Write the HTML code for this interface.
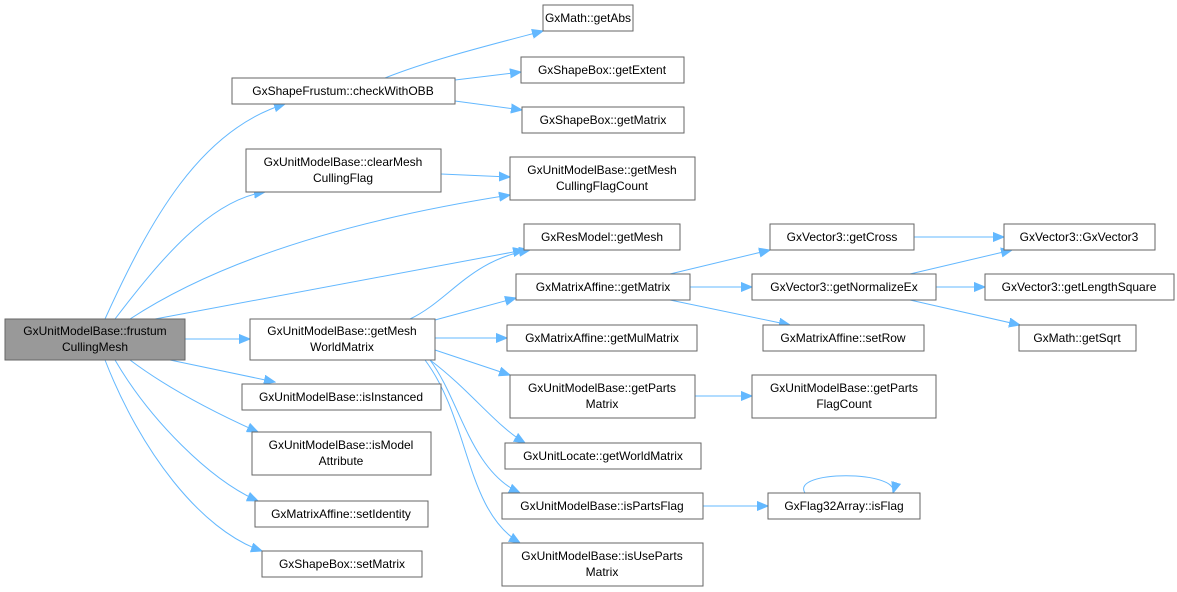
<!DOCTYPE html>
<html><head><meta charset="utf-8"><style>
body{margin:0;background:#fff;width:1177px;height:592px;overflow:hidden}
svg{position:absolute;left:0;top:0}
text{font-family:"Liberation Sans",sans-serif;font-size:12px;fill:#000}
.b{fill:#fff;stroke:#666;stroke-width:1}
.e{fill:none;stroke:#63b8ff;stroke-width:1}
</style></head><body>
<svg width="1177" height="592" viewBox="0 0 1177 592">
<defs><marker id="a" markerUnits="userSpaceOnUse" markerWidth="12" markerHeight="10" refX="11" refY="5" orient="auto"><path d="M0,0.5 L11,5 L0,9.5 Z" fill="#63b8ff" stroke="#63b8ff"/></marker></defs>
<g class="e" marker-end="url(#a)">
<path d="M105,319 C150,220 200,130 285,104"/>
<path d="M115,319 C160,260 210,200 265,192"/>
<path d="M130,319 C220,260 350,220 510,195"/>
<path d="M155,319 L524,250"/>
<path d="M185,339 L250,339"/>
<path d="M170,360 L275,382"/>
<path d="M130,360 C170,390 220,415 258,432"/>
<path d="M115,360 C150,420 210,480 258,501"/>
<path d="M105,360 C140,450 200,530 262,551"/>
<path d="M385,78 C430,60 490,45 543,31"/>
<path d="M455,80 L521,72"/>
<path d="M455,101 L522,110"/>
<path d="M441,174 L510,177"/>
<path d="M410,319 C450,300 470,260 530,250"/>
<path d="M435,320 L516,298"/>
<path d="M435,338 L507,338"/>
<path d="M435,350 L510,375"/>
<path d="M430,360 C470,390 495,425 525,443"/>
<path d="M430,360 C460,400 470,470 520,493"/>
<path d="M425,360 C470,420 465,510 520,543"/>
<path d="M670,274 L770,250"/>
<path d="M690,287 L752,287"/>
<path d="M670,300 L790,325"/>
<path d="M914,237 L1004,237"/>
<path d="M910,274 L1012,250"/>
<path d="M936,287 L985,287"/>
<path d="M910,300 L1020,325"/>
<path d="M695,396 L752,396"/>
<path d="M703,506 L768,506"/>
<path d="M805,493 C790,470 900,470 893,493"/>
</g>
<rect x="5" y="319" width="180" height="41" fill="#999" stroke="#666"/>
<text x="95" y="335" text-anchor="middle">GxUnitModelBase::frustum</text><text x="95" y="351" text-anchor="middle">CullingMesh</text>
<g text-anchor="middle">
<rect class="b" x="232" y="78" width="223" height="26"/><text x="343" y="95">GxShapeFrustum::checkWithOBB</text>
<rect class="b" x="543" y="5" width="90" height="26"/><text x="588" y="22">GxMath::getAbs</text>
<rect class="b" x="521" y="57" width="163" height="26"/><text x="602" y="74">GxShapeBox::getExtent</text>
<rect class="b" x="522" y="107" width="162" height="26"/><text x="603" y="124">GxShapeBox::getMatrix</text>
<rect class="b" x="246" y="149" width="195" height="43"/><text x="343" y="166">GxUnitModelBase::clearMesh</text><text x="343" y="182">CullingFlag</text>
<rect class="b" x="510" y="157" width="185" height="43"/><text x="602" y="174">GxUnitModelBase::getMesh</text><text x="602" y="190">CullingFlagCount</text>
<rect class="b" x="524" y="224" width="156" height="26"/><text x="602" y="241">GxResModel::getMesh</text>
<rect class="b" x="250" y="319" width="185" height="41"/><text x="342" y="335">GxUnitModelBase::getMesh</text><text x="342" y="351">WorldMatrix</text>
<rect class="b" x="516" y="274" width="174" height="26"/><text x="603" y="291">GxMatrixAffine::getMatrix</text>
<rect class="b" x="507" y="325" width="190" height="26"/><text x="602" y="342">GxMatrixAffine::getMulMatrix</text>
<rect class="b" x="510" y="375" width="185" height="43"/><text x="602" y="392">GxUnitModelBase::getParts</text><text x="602" y="408">Matrix</text>
<rect class="b" x="505" y="443" width="196" height="26"/><text x="603" y="460">GxUnitLocate::getWorldMatrix</text>
<rect class="b" x="502" y="493" width="201" height="26"/><text x="602" y="510">GxUnitModelBase::isPartsFlag</text>
<rect class="b" x="502" y="543" width="201" height="43"/><text x="602" y="560">GxUnitModelBase::isUseParts</text><text x="602" y="576">Matrix</text>
<rect class="b" x="242" y="384" width="199" height="26"/><text x="341" y="401">GxUnitModelBase::isInstanced</text>
<rect class="b" x="252" y="432" width="179" height="43"/><text x="341" y="449">GxUnitModelBase::isModel</text><text x="341" y="465">Attribute</text>
<rect class="b" x="255" y="501" width="173" height="26"/><text x="341" y="518">GxMatrixAffine::setIdentity</text>
<rect class="b" x="262" y="551" width="160" height="26"/><text x="342" y="568">GxShapeBox::setMatrix</text>
<rect class="b" x="770" y="224" width="144" height="26"/><text x="842" y="241">GxVector3::getCross</text>
<rect class="b" x="752" y="274" width="184" height="26"/><text x="844" y="291">GxVector3::getNormalizeEx</text>
<rect class="b" x="763" y="325" width="161" height="26"/><text x="843" y="342">GxMatrixAffine::setRow</text>
<rect class="b" x="752" y="375" width="184" height="43"/><text x="844" y="392">GxUnitModelBase::getParts</text><text x="844" y="408">FlagCount</text>
<rect class="b" x="768" y="493" width="152" height="26"/><text x="844" y="510">GxFlag32Array::isFlag</text>
<rect class="b" x="1004" y="224" width="151" height="26"/><text x="1079" y="241">GxVector3::GxVector3</text>
<rect class="b" x="985" y="274" width="189" height="26"/><text x="1079" y="291">GxVector3::getLengthSquare</text>
<rect class="b" x="1019" y="325" width="117" height="26"/><text x="1077" y="342">GxMath::getSqrt</text>
</g>
</svg>
</body></html>
